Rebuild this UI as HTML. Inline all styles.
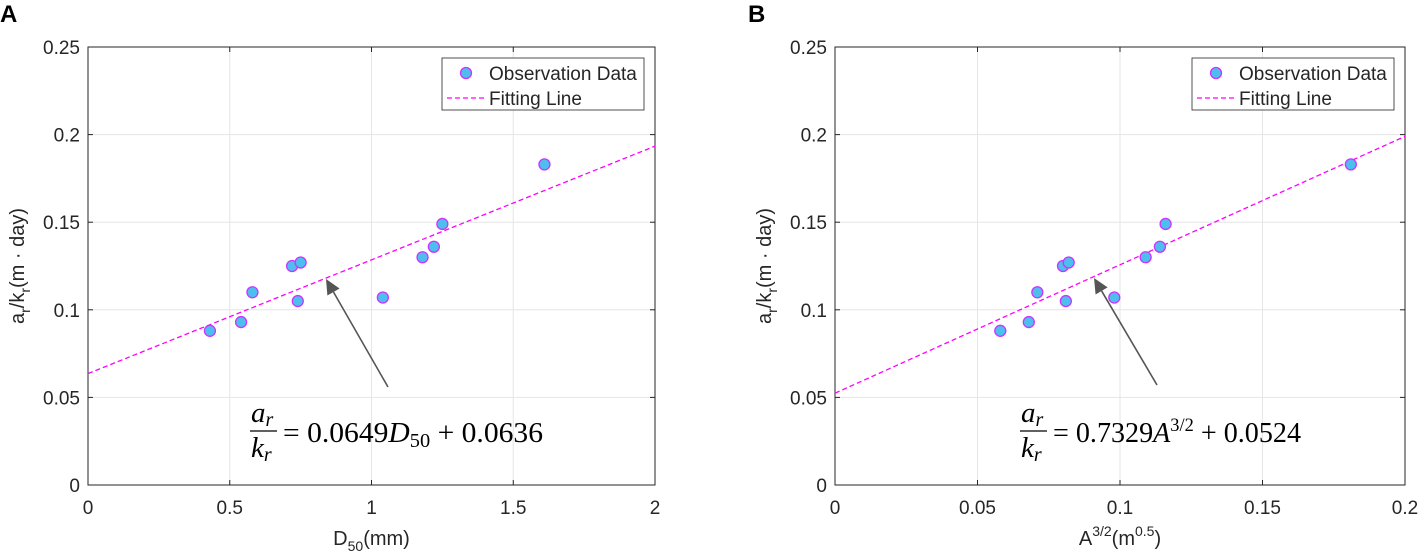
<!DOCTYPE html>
<html><head><meta charset="utf-8">
<style>
html,body{margin:0;padding:0;background:#fff;}
svg{display:block;font-family:"Liberation Sans",Arial,sans-serif;}
.tick{font-size:19px;fill:#262626;}
.lab{font-size:20px;fill:#262626;}
.leg{font-size:19px;fill:#262626;}
.eq{font-family:"Liberation Serif",serif;font-size:29px;fill:#000;}
</style></head>
<body>
<svg id="chart" width="1418" height="557" viewBox="0 0 1418 557" xmlns="http://www.w3.org/2000/svg"></svg>
<script>
const NS="http://www.w3.org/2000/svg";
// Panel A data
const aX=[0.43,0.54,0.58,0.72,0.74,0.75,1.04,1.18,1.22,1.25,1.61];
const aY=[0.088,0.093,0.110,0.125,0.105,0.127,0.107,0.130,0.136,0.149,0.183];
const aXTicks=[0,0.5,1,1.5,2];
const aXTickLabels=["0","0.5","1","1.5","2"];
const aFit=[0.0649,0.0636];
// Panel B data
const bX=[0.058,0.068,0.071,0.080,0.081,0.082,0.098,0.109,0.114,0.116,0.181];
const bY=[0.088,0.093,0.110,0.125,0.105,0.127,0.107,0.130,0.136,0.149,0.183];
const bXTicks=[0,0.05,0.1,0.15,0.2];
const bXTickLabels=["0","0.05","0.1","0.15","0.2"];
const bFit=[0.7329,0.0524];
const yTicks=[0,0.05,0.1,0.15,0.2,0.25];
const yTickLabels=["0","0.05","0.1","0.15","0.2","0.25"];

const svg=document.getElementById('chart');
function mk(tag,attrs,parent){const e=document.createElementNS(NS,tag);for(const k in attrs)e.setAttribute(k,attrs[k]);(parent||svg).appendChild(e);return e;}

function panel(o){
  const g=mk('g',{});
  
  
  const L=o.left,R=o.right,T=47,B=485;
  const sx=v=>L+(v-o.xmin)/(o.xmax-o.xmin)*(R-L);
  const sy=v=>B-(v/0.25)*(B-T);
  mk('rect',{x:L,y:T,width:R-L,height:B-T,fill:'#fff'},g);
  o.xt.forEach((t,i)=>{
    const x=sx(t);
    const gl=mk('line',{x1:x,x2:x,y1:T,y2:B,stroke:'#e6e6e6','stroke-width':1},g);
    
    
    const tl=mk('text',{x:x,y:B+29,'text-anchor':'middle',class:'tick'},g);
    tl.textContent=o.xl[i];
    
    
  });
  yTicks.forEach((t,i)=>{
    const y=sy(t);
    const gl=mk('line',{x1:L,x2:R,y1:y,y2:y,stroke:'#e6e6e6','stroke-width':1},g);
    
    
    mk('line',{x1:L,x2:L+5,y1:y,y2:y,stroke:'#262626'},g);
    mk('line',{x1:R,x2:R-5,y1:y,y2:y,stroke:'#262626'},g);
    const tl=mk('text',{x:L-8,y:y+7,'text-anchor':'end',class:'tick'},g);
    tl.textContent=yTickLabels[i];
    
    
  });
  o.xt.forEach(t=>{const x=sx(t);mk('line',{x1:x,x2:x,y1:B,y2:B-5,stroke:'#262626'},g);mk('line',{x1:x,x2:x,y1:T,y2:T+5,stroke:'#262626'},g);});
  const fr=mk('rect',{x:L,y:T,width:R-L,height:B-T,fill:'none',stroke:'#262626','stroke-width':1},g);
  
  
  const fl=mk('line',{x1:sx(o.xmin),y1:sy(o.fit[0]*o.xmin+o.fit[1]),x2:sx(o.xmax),y2:sy(o.fit[0]*o.xmax+o.fit[1]),stroke:'#ff00ff','stroke-width':1.3,'stroke-dasharray':'5,3'},g);
  
  
  o.px.forEach((v,i)=>{
    const c=mk('circle',{cx:sx(v),cy:sy(o.py[i]),r:5.5,fill:'#4dbeee',stroke:'#cc33ff','stroke-width':1.3},g);
    
    
  });
  const lg=mk('g',{},g);
  
  
  mk('rect',{x:o.legX,y:58,width:202,height:52,fill:'#fff',stroke:'#262626','stroke-width':0.8},lg);
  mk('circle',{cx:o.legX+24,cy:73,r:5.5,fill:'#4dbeee',stroke:'#cc33ff','stroke-width':1.3},lg);
  const t1=mk('text',{x:o.legX+47,y:80,class:'leg'},lg);t1.textContent='Observation Data';
  
  
  mk('line',{x1:o.legX+5,x2:o.legX+44,y1:98,y2:98,stroke:'#ff00ff','stroke-width':1.3,'stroke-dasharray':'5,3'},lg);
  const t2=mk('text',{x:o.legX+47,y:105,class:'leg'},lg);t2.textContent='Fitting Line';
  
  
  const ar=mk('g',{},g);
  
  
  const [x1,y1,x2,y2]=o.arrow;
  const ang=Math.atan2(y2-y1,x2-x1),hl=15,hw=7;
  const bx=x2-hl*Math.cos(ang),by=y2-hl*Math.sin(ang);
  mk('line',{x1:x1,y1:y1,x2:bx,y2:by,stroke:'#555','stroke-width':1.6},ar);
  mk('polygon',{points:`${x2},${y2} ${bx+hw*Math.sin(ang)},${by-hw*Math.cos(ang)} ${bx-hw*Math.sin(ang)},${by+hw*Math.cos(ang)}`,fill:'#555'},ar);
  const eq=mk('g',{},g);
  
  
  const ex=o.eqX;
  const n=mk('text',{x:ex+1,y:422,class:'eq','font-style':'italic'},eq);n.innerHTML='a<tspan font-size="20" dy="4">r</tspan>';
  mk('line',{x1:ex,x2:ex+27,y1:431,y2:431,stroke:'#000','stroke-width':1.3},eq);
  const d=mk('text',{x:ex+1,y:457,class:'eq','font-style':'italic'},eq);d.innerHTML='k<tspan font-size="20" dy="4">r</tspan>';
  const r=mk('text',{x:ex+33,y:442,class:'eq','textLength':o.eqLen,'lengthAdjust':'spacingAndGlyphs'},eq);r.innerHTML=o.eqHtml;
  const yl=mk('text',{x:0,y:0,transform:`translate(${L-64},${(T+B)/2}) rotate(-90)`,'text-anchor':'middle',class:'lab'},g);
  yl.innerHTML='a<tspan font-size="14" dy="6">r</tspan><tspan dy="-6">/k</tspan><tspan font-size="14" dy="6">r</tspan><tspan dy="-6">(m · day)</tspan>';
  
  
  const xl=mk('text',{x:(L+R)/2,y:545,'text-anchor':'middle',class:'lab'},g);
  xl.innerHTML=o.xlab;
  
  
  const pl=mk('text',{x:o.letterX,y:22,'font-size':24,'font-weight':'bold',fill:'#000'},g);
  pl.textContent=o.letter;
  
  
}
panel({name:'panel-a',left:88,right:655,xmin:0,xmax:2,xt:aXTicks,xl:aXTickLabels,px:aX,py:aY,fit:aFit,legX:442,
  arrow:[388,387,326,279],eqX:250,eqLen:260,letter:'A',letterX:0,
  eqHtml:'= 0.0649<tspan font-style="italic">D</tspan><tspan font-size="20" dy="5">50</tspan><tspan dy="-5"> + 0.0636</tspan>',
  xlab:'D<tspan font-size="14" dy="6">50</tspan><tspan dy="-6">(mm)</tspan>'});
panel({name:'panel-b',left:835,right:1405,xmin:0,xmax:0.2,xt:bXTicks,xl:bXTickLabels,px:bX,py:bY,fit:bFit,legX:1192,
  arrow:[1157,385,1094,278],eqX:1020,eqLen:248,letter:'B',letterX:748,
  eqHtml:'= 0.7329<tspan font-style="italic">A</tspan><tspan font-size="19" dy="-11">3/2</tspan><tspan dy="11"> + 0.0524</tspan>',
  xlab:'A<tspan font-size="14" dy="-9">3/2</tspan><tspan dy="9">(m</tspan><tspan font-size="14" dy="-9">0.5</tspan><tspan dy="9">)</tspan>'});
</script>
</body></html>
